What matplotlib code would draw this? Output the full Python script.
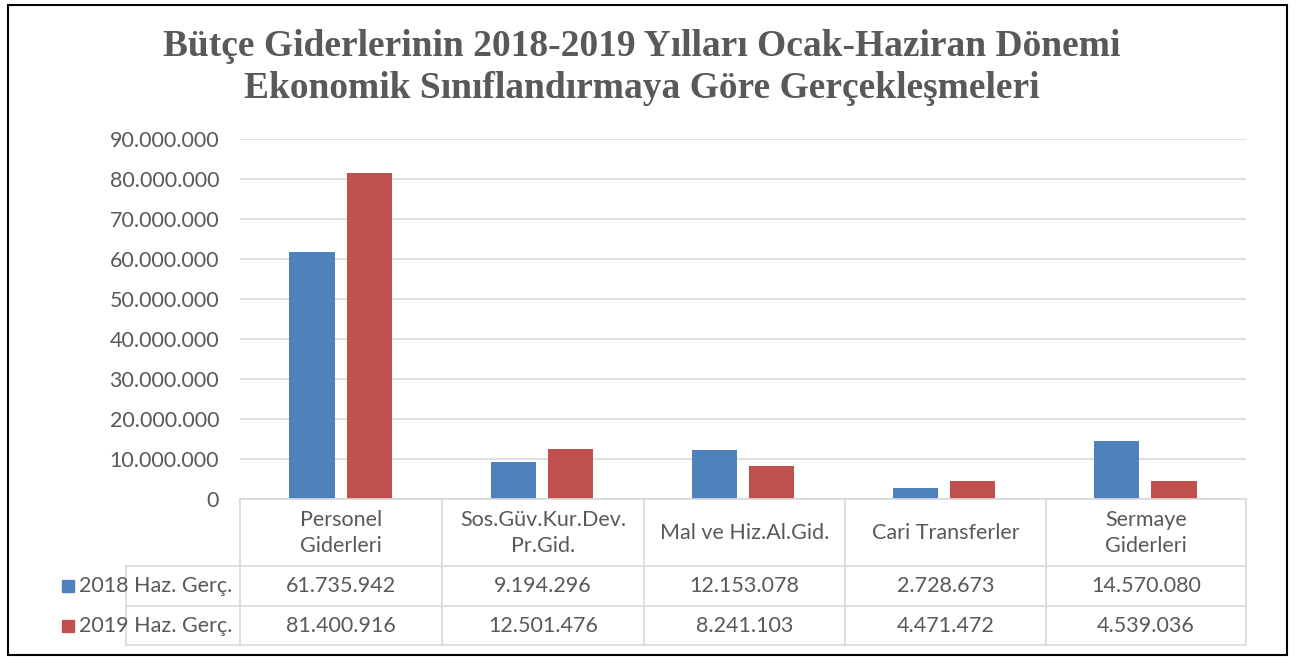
import numpy as np
from matplotlib import pyplot as plt
from matplotlib.patches import Rectangle
from matplotlib.lines import Line2D

categories = ['Personel\nGiderleri', 'Sos.Güv.Kur.Dev.\nPr.Gid.', 'Mal ve Hiz.Al.Gid.',
              'Cari Transferler', 'Sermaye\nGiderleri']
series_names = ['2018 Haz. Gerç.', '2019 Haz. Gerç.']
values_2018 = [61735942, 9194296, 12153078, 2728673, 14570080]
values_2019 = [81400916, 12501476, 8241103, 4471472, 4539036]
yticks = np.arange(0, 90000001, 10000000)

BLUE = '#4F81BD'
RED = '#C0504D'
TEXT = '#595959'
GRID = '#D9D9D9'
FS = 15.5

W, H = 1296, 658
fig = plt.figure(figsize=(W / 100, H / 100), dpi=100)


def fx(px):
    return px / W


def fy(py):
    return 1 - py / H


def fmt(v):
    return f'{v:,}'.replace(',', '.')


# outer border
fig.patches.append(Rectangle((fx(8), fy(655)), fx(1287) - fx(8), fy(5) - fy(655),
                             transform=fig.transFigure, fill=False, ec='black', lw=1.5))

ax = fig.add_axes([fx(240), fy(499), fx(1246) - fx(240), fy(139) - fy(499)])

x = np.arange(len(categories))
off = 0.142
bw = 0.224
ax.bar(x - off, values_2018, bw, color=BLUE, zorder=3)
ax.bar(x + off, values_2019, bw, color=RED, zorder=3)

ax.set_xlim(-0.5, len(categories) - 0.5)
ax.set_ylim(0, 90000000)
ax.set_yticks(yticks)
ax.set_yticklabels([fmt(v) for v in yticks])
ax.tick_params(axis='y', length=0, pad=15, labelsize=FS, labelcolor=TEXT)
ax.tick_params(axis='x', length=0, labelbottom=False)
for lab in ax.get_yticklabels():
    lab.set_fontfamily('Lato')
ax.grid(axis='y', color=GRID, lw=1.2, zorder=0)
for s in ax.spines.values():
    s.set_visible(False)

# data table
rows_y = [499, 566, 606, 645]
col_x = [240, 442, 644, 845, 1046, 1246]
tbl = dict(color=GRID, lw=1.2, transform=fig.transFigure)
for cx in col_x:
    fig.add_artist(Line2D([fx(cx), fx(cx)], [fy(499), fy(645)], **tbl))
fig.add_artist(Line2D([fx(126), fx(126)], [fy(566), fy(645)], **tbl))
fig.add_artist(Line2D([fx(240), fx(1246)], [fy(499), fy(499)], **tbl))
for ry in rows_y[1:]:
    fig.add_artist(Line2D([fx(126), fx(1246)], [fy(ry), fy(ry)], **tbl))

for i, cat in enumerate(categories):
    cxp = (col_x[i] + col_x[i + 1]) / 2
    fig.text(fx(cxp), fy(533), cat, ha='center', va='center', fontsize=FS,
             color=TEXT, family='Lato', linespacing=1.4)
    fig.text(fx(cxp), fy(586), fmt(values_2018[i]), ha='center',
             va='center', fontsize=FS, color=TEXT, family='Lato')
    fig.text(fx(cxp), fy(626), fmt(values_2019[i]), ha='center',
             va='center', fontsize=FS, color=TEXT, family='Lato')

for name, col, ry in zip(series_names, [BLUE, RED], [586, 626]):
    fig.patches.append(Rectangle((fx(62), fy(ry + 6)), fx(12), fy(0) - fy(12),
                                 transform=fig.transFigure, color=col))
    fig.text(fx(79), fy(ry), name, ha='left', va='center', fontsize=FS,
             color=TEXT, family='Lato')

fig.text(0.495, fy(46), 'Bütçe Giderlerinin 2018-2019 Yılları Ocak-Haziran Dönemi',
         ha='center', va='center', fontsize=27, fontweight='bold', color=TEXT,
         family='Liberation Serif')
fig.text(0.495, fy(89), 'Ekonomik Sınıflandırmaya Göre Gerçekleşmeleri',
         ha='center', va='center', fontsize=27, fontweight='bold', color=TEXT,
         family='Liberation Serif')

fig.savefig('out.png', dpi=100)
